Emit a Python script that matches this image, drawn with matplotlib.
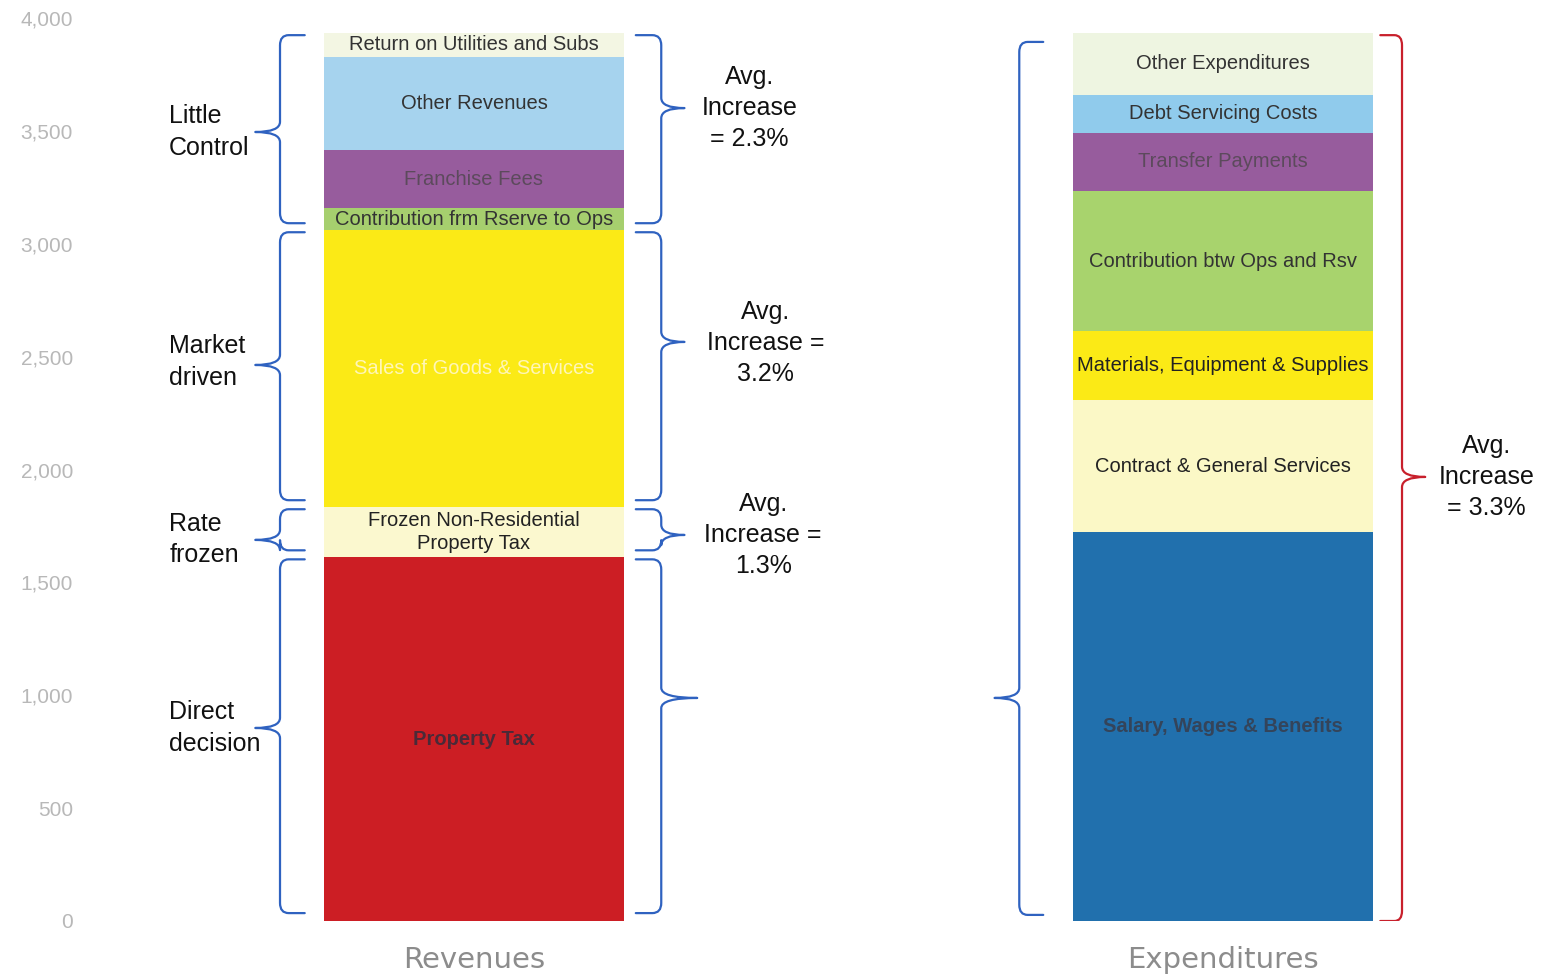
import matplotlib.pyplot as plt
import numpy as np
from matplotlib.path import Path
from matplotlib.patches import PathPatch

plt.rcParams['font.family'] = ['Liberation Sans', 'DejaVu Sans']

# stacked segments, bottom to top
rev_labels = ['Property Tax', 'Frozen Non-Residential\nProperty Tax', 'Sales of Goods & Services',
              'Contribution frm Rserve to Ops', 'Franchise Fees', 'Other Revenues',
              'Return on Utilities and Subs']
rev_values = [1612, 222, 1227, 97, 257, 412, 107]
rev_colors = ['#cc1e24', '#fbf8cf', '#fbea16', '#a6cf6e', '#975c9d', '#a6d3ee', '#f3f6e3']
rev_text = ['#4a2a38', '#222222', '#fff6b8', '#333333', '#5c4a5c', '#333333', '#333333']

exp_labels = ['Salary, Wages & Benefits', 'Contract & General Services',
              'Materials, Equipment & Supplies', 'Contribution btw Ops and Rsv',
              'Transfer Payments', 'Debt Servicing Costs', 'Other Expenditures']
exp_values = [1723, 585, 305, 621, 257, 168, 275]
exp_colors = ['#2170ad', '#fbf8c6', '#fbea16', '#a8d36d', '#975c9d', '#90cbec', '#eef5e1']
exp_text = ['#34445a', '#222222', '#222222', '#333333', '#5c4a5c', '#333333', '#333333']

bar_names = ['Revenues', 'Expenditures']
yticks = [0, 500, 1000, 1500, 2000, 2500, 3000, 3500, 4000]

# revenue groups: label, first segment, last segment, avg increase
groups = [('Little\nControl', 3, 6, 'Avg.\nIncrease\n= 2.3%'),
          ('Market\ndriven', 2, 2, 'Avg.\nIncrease =\n3.2%'),
          ('Rate\nfrozen', 1, 1, 'Avg.\nIncrease =\n1.3%'),
          ('Direct\ndecision', 0, 0, None)]
exp_increase = 'Avg.\nIncrease\n= 3.3%'


def brace(ax, x_end, x_spine, x_tip, y0, y1, ytip, color, lw=1.6):
    ry = 45
    dx = 0.35 * (x_end - x_spine)
    verts = [(x_end, y1), (x_spine + dx, y1),
             (x_spine, y1), (x_spine, y1 - ry),
             (x_spine, ytip + ry),
             (x_spine, ytip), (x_tip, ytip),
             (x_spine, ytip), (x_spine, ytip - ry),
             (x_spine, y0 + ry),
             (x_spine, y0), (x_spine + dx, y0),
             (x_end, y0)]
    codes = [Path.MOVETO, Path.LINETO,
             Path.CURVE3, Path.CURVE3,
             Path.LINETO,
             Path.CURVE3, Path.CURVE3,
             Path.CURVE3, Path.CURVE3,
             Path.LINETO,
             Path.CURVE3, Path.CURVE3,
             Path.LINETO]
    ax.add_patch(PathPatch(Path(verts, codes), fill=False, edgecolor=color, lw=lw,
                           capstyle='round', joinstyle='round'))


fig = plt.figure(figsize=(15.43, 9.76), dpi=100)
ax = fig.add_axes([80 / 1543, 55 / 976, 1 - 80 / 1543, 903 / 976])

width = 0.4
for xpos, vals, cols, labs, tcols in [(0, rev_values, rev_colors, rev_labels, rev_text),
                                      (1, exp_values, exp_colors, exp_labels, exp_text)]:
    bottoms = np.concatenate([[0], np.cumsum(vals)[:-1]])
    ax.bar(xpos, vals, width=width, bottom=bottoms, color=cols, edgecolor='none')
    for b, v, lab, tc in zip(bottoms, vals, labs, tcols):
        weight = 'bold' if lab in ('Salary, Wages & Benefits', 'Property Tax') else 'normal'
        ax.text(xpos, b + v / 2, lab, ha='center', va='center', fontsize=14.5,
                color=tc, fontweight=weight, linespacing=1.3)

rev_cum = np.concatenate([[0], np.cumsum(rev_values)])
exp_total = sum(exp_values)
blue = '#2f62c0'
red = '#c8202c'

# left braces with group names, right braces with average increases
label_y = [3495, 2475, 1690, 855]
left_tips = [3495, 2463, 1688, 855]
right_tips = [3601, 2565, 1710, 988]
text_x = [0.368, 0.389, 0.386]
text_y = [3601, 2560, 1710]
for i, (name, lo, hi, inc) in enumerate(groups):
    y0 = rev_cum[lo] + (30 if lo > 0 else 35)
    y1 = rev_cum[hi + 1] - 10
    brace(ax, -0.226, -0.259, -0.292, y0, y1, left_tips[i], blue)
    brace(ax, 0.216, 0.250, 0.281 if i < 3 else 0.298, y0, y1, right_tips[i], blue)
    ax.text(-0.407, label_y[i], name, ha='left', va='center', fontsize=18,
            color='#111111', linespacing=1.4)
    if inc:
        ax.text(text_x[i], text_y[i], inc, ha='center', va='center', fontsize=18,
                color='#111111', linespacing=1.35)

brace(ax, 1 - 0.240, 1 - 0.272, 1 - 0.305, 27, exp_total - 40, 988, blue)
brace(ax, 1 + 0.210, 1 + 0.239, 1 + 0.270, 0, exp_total - 10, exp_total / 2, red)
ax.text(1 + 0.352, exp_total / 2, exp_increase, ha='center', va='center', fontsize=18,
        color='#111111', linespacing=1.35)

ax.set_xlim(-(474 - 80) / 749, (1543 - 474) / 749)
ax.set_ylim(0, 4000)
ax.set_yticks(yticks)
ax.set_yticklabels([f'{t:,}' for t in yticks], fontsize=15, color='#b8b8b8')
ax.set_xticks([0, 1])
ax.set_xticklabels(bar_names, fontsize=21, color='#8c8c8c', family='DejaVu Sans')
ax.tick_params(axis='both', length=0)
ax.tick_params(axis='x', pad=18)
ax.tick_params(axis='y', pad=5)
for s in ax.spines.values():
    s.set_visible(False)

fig.savefig('out.png', dpi=100)
